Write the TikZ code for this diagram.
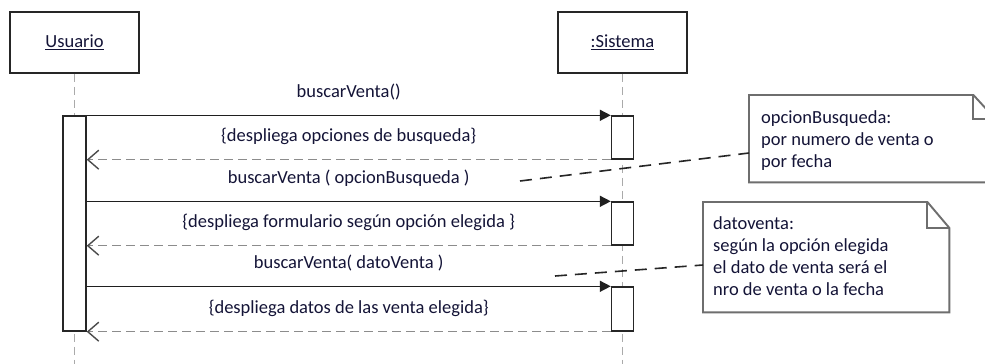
\documentclass[tikz,border=0pt]{standalone}
\usepackage{fontspec}
\setmainfont{Carlito}
\usetikzlibrary{arrows.meta,calc}
\definecolor{txt}{RGB}{20,20,55}
\definecolor{life}{RGB}{170,170,170}
\definecolor{ret}{RGB}{140,140,140}
\definecolor{notec}{RGB}{110,110,110}
\tikzset{
 actor/.style={draw=black!85, line width=1.5pt, fill=white, minimum width=129, minimum height=61, inner sep=0, text=txt},
 actbar/.style={draw=black!85, line width=1.4pt, fill=white, minimum width=22, inner sep=0},
 lifeline/.style={draw=life, line width=1.3pt, dash pattern=on 8pt off 5pt},
 msg/.style={draw=black!88, line width=1.5pt, -{Triangle[length=11pt,width=11pt]}},
 retmsg/.style={draw=ret, line width=1.4pt, dash pattern=on 9pt off 5pt, -{Straight Barb[length=11pt,width=19pt,color=black!70]}},
 lbl/.style={midway, anchor=base, yshift=18, text=txt, inner sep=0},
 noteframe/.style={draw=notec, line width=1.9pt},
 notelink/.style={draw=black!85, line width=1.6pt, dash pattern=on 12pt off 8pt},
 notetext/.style={anchor=north west, align=left, text=txt, inner sep=0},
 notearea/.style={inner sep=0, anchor=north west},
}
\begin{document}
\begin{tikzpicture}[x=1pt,y=-1pt, font=\fontsize{18.5}{22}\selectfont]
\useasboundingbox (0,0) rectangle (985,364);
\clip (0,0) rectangle (985,364);
\fill[white] (0,0) rectangle (985,364);
% actors
\node[actor] (usr) at (74.5,42.5) {\underline{Usuario}};
\node[actor] (sis) at (622.5,42.5) {\underline{:Sistema}};
% lifelines
\coordinate (usrend) at (usr.south |- 0,364);
\coordinate (sisend) at (sis.south |- 0,364);
\draw[lifeline] (usr.south) -- (usrend);
\draw[lifeline] (sis.south) -- (sisend);
% activation bars
\node[actbar, minimum width=23, minimum height=215] (a0) at (74.5,223.5) {};
\node[actbar, minimum height=43] (b1) at (622.5,137.5) {};
\node[actbar, minimum height=43] (b2) at (622.5,223.5) {};
\node[actbar, minimum height=44] (b3) at (622.5,309) {};
% messages
\draw[msg] (a0.east |- b1.north west) -- (b1.north west) node[lbl] (m1) {buscarVenta()};
\draw[retmsg] (b1.south west) -- (a0.east |- b1.south west) node[lbl] (r1) {\{despliega opciones de busqueda\}};
\draw[msg] (a0.east |- b2.north west) -- (b2.north west) node[lbl] (m2) {buscarVenta ( opcionBusqueda )};
\draw[retmsg] (b2.south west) -- (a0.east |- b2.south west) node[lbl] (r2) {\{despliega formulario según opción elegida \}};
\draw[msg] (a0.east |- b3.north west) -- (b3.north west) node[lbl] (m3) {buscarVenta( datoVenta )};
\draw[retmsg] (b3.south west) -- (a0.east |- b3.south west) node[lbl] (r3) {\{despliega datos de las venta elegida\}};
% note 1
\node[notearea, minimum width=246, minimum height=87] (n1) at (749,95) {};
\draw[noteframe, fill=white] (n1.north west) -- ($(n1.north east)+(-22,0)$) -- ($(n1.north east)+(0,24)$) -- (n1.south east) -- (n1.south west) -- cycle;
\draw[noteframe] ($(n1.north east)+(-22,0)$) -- ++(0,24) -- ++(22,0);
\node[notetext] (t1) at (761,110) {opcionBusqueda:\\por numero de venta o\\por fecha};
% note 2
\node[notearea, minimum width=246, minimum height=110] (n2) at (703,202) {};
\draw[noteframe, fill=white] (n2.north west) -- ($(n2.north east)+(-22,0)$) -- ($(n2.north east)+(0,26)$) -- (n2.south east) -- (n2.south west) -- cycle;
\draw[noteframe] ($(n2.north east)+(-22,0)$) -- ++(0,26) -- ++(22,0);
\node[notetext] (t2) at (713,216) {datoventa:\\según la opción elegida\\el dato de venta será el\\nro de venta o la fecha};
% note links
\coordinate (c1) at (520,181);
\coordinate (c2) at (555,276);
\draw[notelink] (c1) -- ($(n1.north west)+(0,58)$);
\draw[notelink] (c2) -- ($(n2.north west)+(0,63)$);
\end{tikzpicture}
\end{document}
